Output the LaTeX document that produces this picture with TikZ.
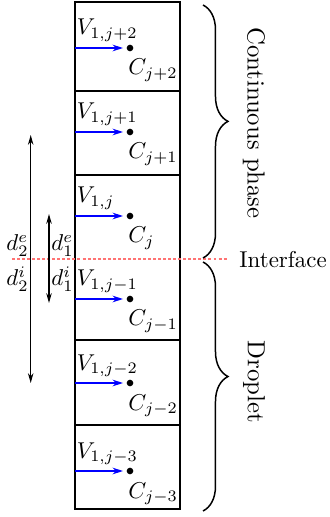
\documentclass[tikz,border=0pt]{standalone}
\usetikzlibrary{arrows.meta,decorations.pathreplacing}
\begin{document}
\begin{tikzpicture}[x=0.4367pt,y=-0.4367pt,
  cellline/.style={line width=0.45pt},
  varrow/.style={blue, line width=0.5pt, -{Stealth[length=4.6pt,width=2.9pt]}, shorten >=1.4pt},
  ctr/.style={circle, fill, inner sep=0pt, minimum size=2.9pt},
  vlab/.style={anchor=base west, inner sep=0pt},
  dimarrow/.style={line width=0.5pt, {Stealth[length=4.3pt,width=2.4pt]}-{Stealth[length=4.3pt,width=2.4pt]}},
  bracestyle/.style={decorate, decoration={brace, amplitude=10.9pt, aspect=0.46}, line width=0.65pt},
  iface/.style={red!55, line width=0.5pt, dash pattern=on 1.3pt off 0.9pt},
  sidelab/.style={inner sep=0pt},
  rotlab/.style={rotate=-90, inner sep=0pt, font=\fontsize{10.8}{13}\selectfont}]
\useasboundingbox (0,0) rectangle (329,517);
% column of cells
\draw[cellline] (75,2) rectangle (180,509);
\foreach \yy in {91,175,340,425} \draw[cellline] (75,\yy) -- (180,\yy);
% cell contents
\foreach \i/\yy/\s in {1/48/j+2, 2/132/j+1, 3/216/j, 4/299/j-1, 5/383/j-2, 6/471/j-3} {
  \coordinate (a\i) at (75,\yy);
  \node[ctr] (p\i) at (130,\yy) {};
  \draw[varrow] (a\i) -- (p\i);
  \node[vlab] (v\i) at (76.5,\yy-13) {$V_{1,\s}$};
  \node[vlab] (c\i) at (128,\yy+27) {$C_{\s}$};
}
% interface
\coordinate (if1) at (12,259);
\coordinate (if2) at (228,259);
\draw[iface] (if1) -- (if2);
\node[anchor=base west, inner sep=0pt] (iflab) at (239,268) {Interface};
% dimension arrows
\coordinate (la1) at (30.7,135);
\coordinate (la2) at (30.7,383);
\coordinate (sa1) at (49,214);
\coordinate (sa2) at (49,303);
\draw[dimarrow] (la1) -- (la2);
\draw[dimarrow] (sa1) -- (sa2);
\node[sidelab, anchor=south east] (d2e) at (29,256.5) {$d_2^e$};
\node[sidelab, anchor=north east] (d2i) at (29,266) {$d_2^i$};
\node[sidelab, anchor=south west] (d1e) at (51,256.5) {$d_1^e$};
\node[sidelab, anchor=north west] (d1i) at (51,266) {$d_1^i$};
% braces
\coordinate (b1s) at (203,5);
\coordinate (b1e) at (203,258);
\coordinate (b2s) at (203,262);
\coordinate (b2e) at (203,511);
\draw[bracestyle] (b1s) -- (b1e);
\draw[bracestyle] (b2s) -- (b2e);
\node[rotlab] (cont) at (254,123) {Continuous phase};
\node[rotlab] (drop) at (254,382) {Droplet};
\end{tikzpicture}
\end{document}
